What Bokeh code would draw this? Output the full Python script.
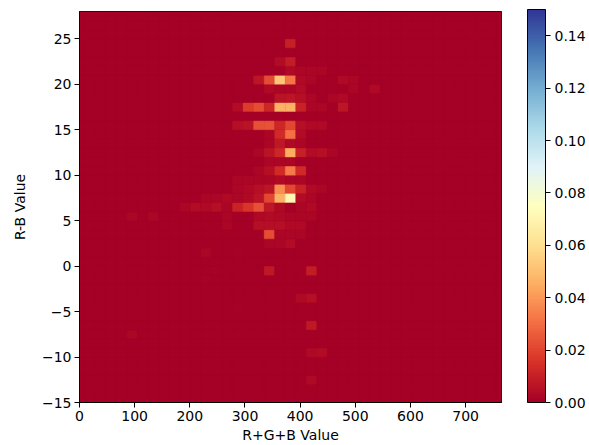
import numpy as np
from bokeh.plotting import figure
from bokeh.models import (ColumnDataSource, LinearColorMapper, ColorBar, FixedTicker,
                          Range1d, PrintfTickFormatter)
from bokeh.transform import linear_cmap
from bokeh.embed import file_html
from bokeh.resources import INLINE

# 2-D histogram of (R+G+B, R-B) pixel values, normalised frequencies
RGB_MAX = 765
N_RGB_BINS = 40
RGB_BIN_W = RGB_MAX / N_RGB_BINS          # bins are centred on multiples of this
RB_LOW, RB_HIGH = -15, 28                 # R-B bins are 1 unit wide

# non-empty bins: R+G+B bin index, lower edge of R-B bin, frequency
rgb_bin = [20,
           19, 20,
           20, 21, 22, 23,
           17, 18, 19, 20, 21, 22, 25, 26,
           18, 19, 20, 21, 26, 28,
           19, 20, 21, 22, 24, 25,
           15, 16, 17, 18, 19, 20, 21, 22, 23, 25,
           15, 16, 17, 18, 19, 20, 21, 22, 23,
           18, 19, 20, 21,
           18, 19, 20, 21,
           17, 18, 19, 20, 21, 22, 23, 24,
           18, 19, 20,
           17, 18, 19, 20, 21,
           15, 16, 17, 18, 19, 20, 21,
           15, 16, 17, 18, 19, 20, 21, 22, 23,
           12, 13, 14, 15, 16, 17, 18, 19, 20, 21, 22,
           10, 11, 12, 13, 14, 15, 16, 17, 18, 19, 21, 22,
           5, 7, 14, 17, 18, 19, 20, 21, 22,
           14, 17, 18, 19, 20, 21,
           18, 19, 20, 21,
           18, 19, 20,
           12, 15,
           13, 18, 22,
           12,
           21, 22,
           15,
           22,
           5,
           22, 23,
           22]
rb_bin = [24,
          22, 22,
          21, 21, 21, 21,
          20, 20, 20, 20, 20, 20, 20, 20,
          19, 19, 19, 19, 19, 19,
          18, 18, 18, 18, 18, 18,
          17, 17, 17, 17, 17, 17, 17, 17, 17, 17,
          15, 15, 15, 15, 15, 15, 15, 15, 15,
          14, 14, 14, 14,
          13, 13, 13, 13,
          12, 12, 12, 12, 12, 12, 12, 12,
          11, 11, 11,
          10, 10, 10, 10, 10,
          9, 9, 9, 9, 9, 9, 9,
          8, 8, 8, 8, 8, 8, 8, 8, 8,
          7, 7, 7, 7, 7, 7, 7, 7, 7, 7, 7,
          6, 6, 6, 6, 6, 6, 6, 6, 6, 6, 6, 6,
          5, 5, 5, 5, 5, 5, 5, 5, 5,
          4, 4, 4, 4, 4, 4,
          3, 3, 3, 3,
          2, 2, 2,
          1, 1,
          -1, -1, -1,
          -2,
          -4, -4,
          -5,
          -7,
          -8,
          -10, -10,
          -13]
freq = [0.010,
        0.004, 0.009,
        0.003, 0.002, 0.002, 0.002,
        0.007, 0.022, 0.052, 0.032, 0.003, 0.002, 0.003, 0.002,
        0.003, 0.002, 0.002, 0.004, 0.002, 0.003,
        0.006, 0.007, 0.005, 0.002, 0.002, 0.003,
        0.004, 0.018, 0.022, 0.012, 0.046, 0.046, 0.011, 0.002, 0.002, 0.007,
        0.005, 0.006, 0.023, 0.024, 0.012, 0.021, 0.005, 0.003, 0.003,
        0.002, 0.013, 0.031, 0.004,
        0.002, 0.008, 0.003, 0.002,
        0.002, 0.006, 0.012, 0.045, 0.010, 0.004, 0.005, 0.002,
        0.002, 0.002, 0.002,
        0.002, 0.005, 0.013, 0.033, 0.013,
        0.002, 0.002, 0.002, 0.002, 0.003, 0.002, 0.002,
        0.002, 0.003, 0.005, 0.007, 0.038, 0.021, 0.011, 0.003, 0.002,
        0.002, 0.002, 0.003, 0.002, 0.003, 0.006, 0.021, 0.046, 0.072, 0.004, 0.002,
        0.002, 0.004, 0.003, 0.005, 0.002, 0.011, 0.016, 0.023, 0.008, 0.003, 0.002, 0.003,
        0.002, 0.002, 0.002, 0.003, 0.004, 0.003, 0.002, 0.002, 0.002,
        0.002, 0.005, 0.005, 0.005, 0.003, 0.003,
        0.022, 0.002, 0.002, 0.002,
        0.002, 0.002, 0.004,
        0.002, 0.001,
        0.001, 0.008, 0.009,
        0.001,
        0.003, 0.005,
        0.001,
        0.008,
        0.002,
        0.003, 0.004,
        0.003]

x_ticks = [0, 100, 200, 300, 400, 500, 600, 700]
y_ticks = [-15, -10, -5, 0, 5, 10, 15, 20, 25]
cbar_ticks = [0.00, 0.02, 0.04, 0.06, 0.08, 0.10, 0.12, 0.14]
V_MAX = 0.15

# full grid of bins, empty ones included
n_rows = RB_HIGH - RB_LOW
grid = np.zeros((n_rows, N_RGB_BINS + 1))
for k, v, f in zip(rgb_bin, rb_bin, freq):
    grid[v - RB_LOW, k] = f
kk, vv = np.meshgrid(np.arange(N_RGB_BINS + 1), np.arange(RB_LOW, RB_HIGH))
src = ColumnDataSource(dict(x=(kk * RGB_BIN_W).ravel(),
                            y=(vv + 0.5).ravel(),
                            f=grid.ravel()))

# RdYlBu colour scale, red at 0
anchors = ["#a50026", "#d73027", "#f46d43", "#fdae61", "#fee090", "#ffffbf",
           "#e0f3f8", "#abd9e9", "#74add1", "#4575b4", "#313695"]
rgb = np.array([[int(c[i:i + 2], 16) for i in (1, 3, 5)] for c in anchors], float)
pos = np.linspace(0, 1, len(anchors))
t = np.linspace(0, 1, 256)
palette = ["#%02x%02x%02x" % tuple(int(round(np.interp(tt, pos, rgb[:, j]))) for j in range(3))
           for tt in t]
mapper = LinearColorMapper(palette=palette, low=0, high=V_MAX)

p = figure(width=589, height=445, x_range=Range1d(0, RGB_MAX), y_range=Range1d(RB_LOW, RB_HIGH),
           output_backend="svg", toolbar_location=None,
           min_border_left=79, min_border_top=11, min_border_bottom=41, min_border_right=88)
p.background_fill_color = palette[0]
p.border_fill_color = "white"
p.grid.visible = False
p.outline_line_color = "black"
p.outline_line_width = 1

cmap = linear_cmap("f", palette, 0, V_MAX)
p.rect(x="x", y="y", width=RGB_BIN_W, height=1, source=src,
       fill_color=cmap, line_color=cmap, line_width=0.4)

FONT = "DejaVu Sans"
for ax in (p.xaxis, p.yaxis):
    ax.major_label_text_font = FONT
    ax.major_label_text_font_size = "14px"
    ax.major_label_text_color = "black"
    ax.axis_label_text_font = FONT
    ax.axis_label_text_font_size = "14px"
    ax.axis_label_text_font_style = "normal"
    ax.axis_label_text_color = "black"
    ax.axis_line_color = "black"
    ax.major_tick_line_color = "black"
    ax.major_tick_out = 5
    ax.major_tick_in = 0
    ax.minor_tick_line_color = None
    ax.major_label_standoff = 3

p.xaxis.axis_label_standoff = 3
p.yaxis.axis_label_standoff = 11
p.xaxis.ticker = FixedTicker(ticks=x_ticks)
p.yaxis.ticker = FixedTicker(ticks=y_ticks)
p.xaxis.axis_label = "R+G+B Value"
p.yaxis.axis_label = "R-B Value"

cbar = ColorBar(color_mapper=mapper, ticker=FixedTicker(ticks=cbar_ticks),
                formatter=PrintfTickFormatter(format="%.2f"),
                width=18, height=393, padding=0, margin=0, location=(26, 0),
                bar_line_color="black", bar_line_width=1,
                major_tick_line_color="black", major_tick_out=5, major_tick_in=0,
                minor_tick_line_color=None, border_line_color=None,
                background_fill_color=None, label_standoff=4,
                major_label_text_font=FONT, major_label_text_font_size="14px",
                major_label_text_color="black")
p.add_layout(cbar, "right")

open("out.html", "w").write(file_html(p, INLINE))
